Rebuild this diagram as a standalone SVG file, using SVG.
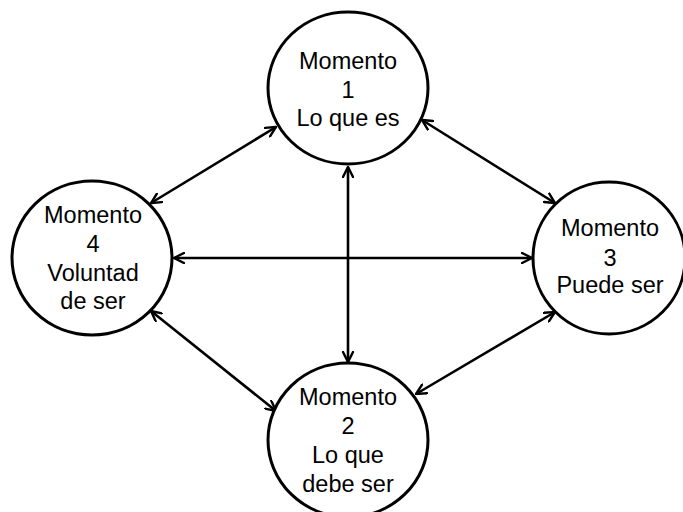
<svg xmlns="http://www.w3.org/2000/svg" width="683" height="512" viewBox="0 0 683 512">
<defs>
<marker id="ah" viewBox="0 0 12 12" refX="11" refY="6" markerWidth="12" markerHeight="12" markerUnits="userSpaceOnUse" orient="auto-start-reverse">
<path d="M1,1 L11,6 L1,11" fill="none" stroke="#000" stroke-width="2.4" stroke-linecap="round" stroke-linejoin="miter"/>
</marker>
</defs>
<style>
.n{fill:#fff;stroke:#000;stroke-width:3}
.t{font-family:"Liberation Sans",Arial,sans-serif;font-size:23.5px;fill:#000;text-anchor:middle}
.c{stroke:#000;stroke-width:2.6;fill:none;marker-start:url(#ah);marker-end:url(#ah)}
</style>
<rect width="683" height="512" fill="#fff"/>
<g id="connectors">
<line class="c" x1="348" y1="167" x2="348" y2="362"/>
<line class="c" x1="174" y1="258" x2="532" y2="258"/>
<line class="c" x1="151" y1="203" x2="276" y2="127"/>
<line class="c" x1="422" y1="120" x2="555" y2="203"/>
<line class="c" x1="151" y1="311" x2="276" y2="411"/>
<line class="c" x1="416" y1="394" x2="555" y2="312"/>
</g>
<g id="m1">
<ellipse class="n" cx="348" cy="88" rx="80" ry="76"/>
<text class="t" x="348" y="69">Momento</text>
<text class="t" x="348" y="98">1</text>
<text class="t" x="348" y="126">Lo que es</text>
</g>
<g id="m4">
<ellipse class="n" cx="92" cy="258" rx="80" ry="77"/>
<text class="t" x="93" y="223">Momento</text>
<text class="t" x="93" y="252">4</text>
<text class="t" x="93" y="281">Voluntad</text>
<text class="t" x="93" y="309">de ser</text>
</g>
<g id="m3">
<ellipse class="n" cx="609" cy="258" rx="76" ry="76"/>
<text class="t" x="610" y="236">Momento</text>
<text class="t" x="610" y="266">3</text>
<text class="t" x="610" y="293">Puede ser</text>
</g>
<g id="m2">
<ellipse class="n" cx="348" cy="440" rx="80" ry="77"/>
<text class="t" x="348" y="405">Momento</text>
<text class="t" x="348" y="434">2</text>
<text class="t" x="348" y="463">Lo que</text>
<text class="t" x="348" y="492">debe ser</text>
</g>
</svg>
